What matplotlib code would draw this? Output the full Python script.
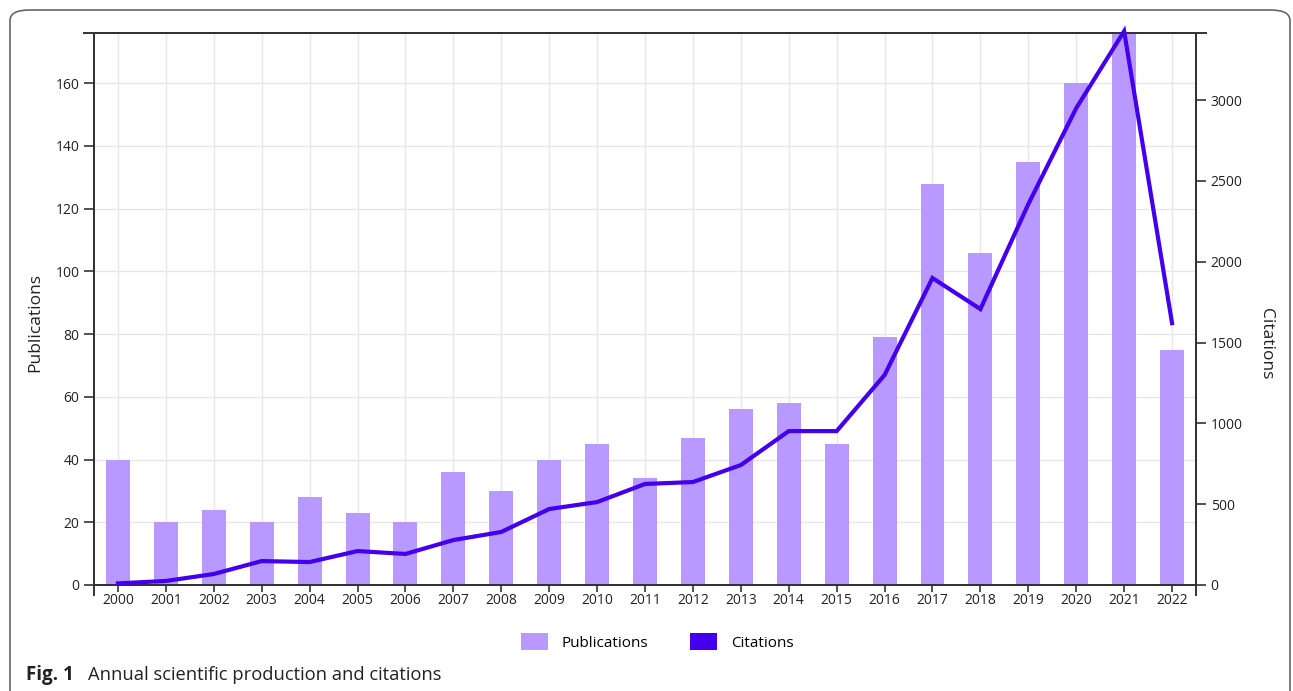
import matplotlib
matplotlib.use("Agg")
import matplotlib.pyplot as plt
from matplotlib.patches import Patch, FancyBboxPatch
import numpy as np

years = [str(y) for y in range(2000, 2023)]
publications = [40, 20, 24, 20, 28, 23, 20, 36, 30, 40, 45, 34, 47, 56, 58, 45,
                79, 128, 106, 135, 160, 176, 75]
citations = [10, 25, 68, 148, 142, 210, 192, 278, 328, 470, 513, 625, 637, 742,
             952, 952, 1299, 1899, 1707, 2356, 2950, 3426, 1620]
pub_ticks = [0, 20, 40, 60, 80, 100, 120, 140, 160]
cit_ticks = [0, 500, 1000, 1500, 2000, 2500, 3000]

BAR = "#b899ff"
LINE = "#4400ee"
DARK = "#333333"

plt.rcParams['font.family'] = ['Open Sans', 'DejaVu Sans']

fig = plt.figure(figsize=(12.93, 6.91), dpi=100)

# rounded panel frame
frame = FancyBboxPatch((10 / 1293, -20 / 691), 1280 / 1293, (691 - 10 + 20) / 691,
                       boxstyle="round,pad=0,rounding_size=0.015",
                       transform=fig.transFigure, fill=False,
                       edgecolor="#666666", linewidth=1.2, mutation_aspect=691 / 1293 * 1.9)
fig.patches.append(frame)

ax = fig.add_axes([94 / 1293, 1 - 585 / 691, (1196 - 94) / 1293, (585 - 33) / 691])
x = np.arange(len(years))
ax.bar(x, publications, width=0.5, color=BAR, zorder=2)
ax.set_xlim(-0.5, len(years) - 0.5)
ax.set_ylim(0, 176)
ax.set_yticks(pub_ticks)
ax.set_xticks(x)
ax.set_xticklabels(years)
ax.grid(True, color="#e6e6e6", linewidth=1, zorder=0)
ax.set_axisbelow(True)
for s in ["left", "right", "top", "bottom"]:
    ax.spines[s].set_color(DARK)
    ax.spines[s].set_linewidth(1.4)
ax.tick_params(axis="both", colors=DARK, labelcolor="#222222", labelsize=10,
               length=7, width=1.2)
ax.tick_params(axis="x", pad=1, length=5)
ax.set_xticks([-0.5, len(years) - 0.5], minor=True)
ax.set_yticks([176], minor=True)
ax.tick_params(which="minor", length=8, width=1.4, colors=DARK)
ax.set_ylabel("Publications", fontsize=12.5, color="#222222", va="center")
ax.yaxis.set_label_coords(-0.0535, 0.475)

ax2 = ax.twinx()
ax2.plot(x, citations, color=LINE, linewidth=3, clip_on=False, zorder=5,
         solid_joinstyle="miter")
ax2.set_ylim(0, 3415)
ax2.set_yticks(cit_ticks)
ax2.set_yticks([3415], minor=True)
for s in ["left", "right", "top", "bottom"]:
    ax2.spines[s].set_color(DARK)
    ax2.spines[s].set_linewidth(1.4)
ax2.tick_params(axis="y", colors=DARK, labelcolor="#222222", labelsize=10,
                length=7, width=1.2)
ax2.tick_params(which="minor", length=8, width=1.4, colors=DARK)
ax2.set_ylabel("Citations", fontsize=12.5, color="#222222", rotation=270,
               va="center")
ax2.yaxis.set_label_coords(1.0635, 0.438)

handles = [Patch(facecolor=BAR, edgecolor="none", label="Publications"),
           Patch(facecolor=LINE, edgecolor="none", label="Citations")]
fig.legend(handles=handles, loc="center", bbox_to_anchor=(657 / 1293, 1 - 642 / 691),
           ncol=2, frameon=False, fontsize=11, handlelength=1.8,
           handleheight=1.3, handletextpad=0.9, columnspacing=2.7)

fig.text(26 / 1293, 1 - 675 / 691, "Fig. 1", fontsize=13.5, fontweight="bold",
         va="center", ha="left", color="#222222")
fig.text(88 / 1293, 1 - 675 / 691, "Annual scientific production and citations",
         fontsize=13.2, va="center", ha="left", color="#222222")

fig.savefig("out.png", dpi=100)
